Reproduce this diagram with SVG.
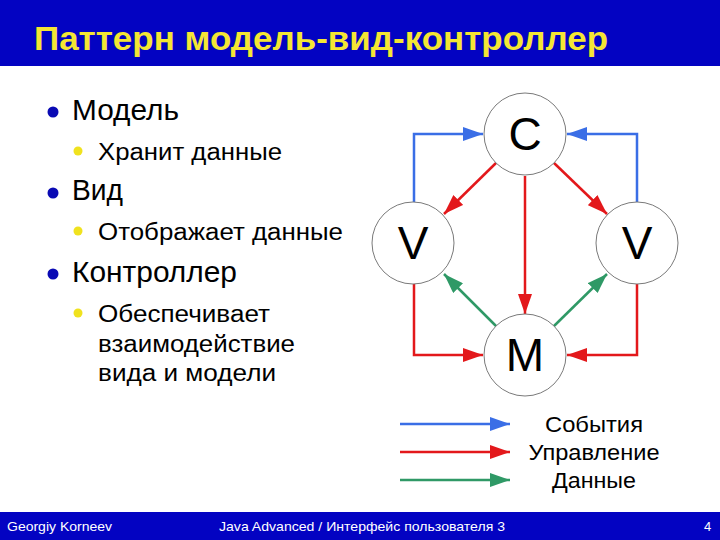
<svg xmlns="http://www.w3.org/2000/svg" width="720" height="540" viewBox="0 0 720 540">
<style>
.bar{fill:#0303c2}
.title{font-family:"Liberation Sans",Arial,sans-serif;font-weight:bold;font-size:33px;fill:#f4e634}
.foot{font-family:"Liberation Sans",Arial,sans-serif;font-size:13px;fill:#ffffff}
.main{font-family:"Liberation Sans",Arial,sans-serif;font-size:29px;fill:#000}
.sub{font-family:"Liberation Sans",Arial,sans-serif;font-size:23.5px;fill:#000}
.b1{fill:#0a0ab4}
.b2{fill:#f0e21e}
.node circle{fill:#fff;stroke:#7a7a7a;stroke-width:1}
.node text{font-family:"Liberation Sans",Arial,sans-serif;font-size:46px;fill:#000;text-anchor:middle}
.ev{stroke:#3a6ee6;stroke-width:2.5;fill:none}
.ctl{stroke:#e3181b;stroke-width:2.5;fill:none}
.dat{stroke:#2f9966;stroke-width:2.5;fill:none}
.leg{font-family:"Liberation Sans",Arial,sans-serif;font-size:22px;fill:#000;text-anchor:middle}
</style>
<defs>
<marker id="aB" markerUnits="userSpaceOnUse" markerWidth="20" markerHeight="14" refX="20" refY="7" orient="auto"><path d="M0,0 L20,7 L0,14 Z" fill="#3a6ee6"/></marker>
<marker id="aR" markerUnits="userSpaceOnUse" markerWidth="20" markerHeight="14" refX="20" refY="7" orient="auto"><path d="M0,0 L20,7 L0,14 Z" fill="#e3181b"/></marker>
<marker id="aG" markerUnits="userSpaceOnUse" markerWidth="20" markerHeight="14" refX="20" refY="7" orient="auto"><path d="M0,0 L20,7 L0,14 Z" fill="#2f9966"/></marker>
</defs>
<rect width="720" height="540" fill="#fff"/>
<rect class="bar" x="0" y="0" width="720" height="66"/>
<text class="title" x="34" y="50" textLength="574" lengthAdjust="spacingAndGlyphs">Паттерн модель-вид-контроллер</text>
<rect class="bar" x="0" y="512" width="720" height="28"/>
<text class="foot" x="7" y="531" textLength="105" lengthAdjust="spacingAndGlyphs">Georgiy Korneev</text>
<text class="foot" x="219" y="531" textLength="286" lengthAdjust="spacingAndGlyphs">Java Advanced / Интерфейс пользователя 3</text>
<text class="foot" x="704" y="531">4</text>

<g id="bullets">
<circle class="b1" cx="53" cy="112" r="5.5"/>
<text class="main" x="72" y="120" textLength="107" lengthAdjust="spacingAndGlyphs">Модель</text>
<circle class="b2" cx="78" cy="151" r="4.5"/>
<text class="sub" x="98" y="160" textLength="184" lengthAdjust="spacingAndGlyphs">Хранит данные</text>
<circle class="b1" cx="53" cy="193" r="5.5"/>
<text class="main" x="72" y="200" textLength="51" lengthAdjust="spacingAndGlyphs">Вид</text>
<circle class="b2" cx="78" cy="231" r="4.5"/>
<text class="sub" x="98" y="240" textLength="245" lengthAdjust="spacingAndGlyphs">Отображает данные</text>
<circle class="b1" cx="53" cy="274" r="5.5"/>
<text class="main" x="72" y="282" textLength="165" lengthAdjust="spacingAndGlyphs">Контроллер</text>
<circle class="b2" cx="78" cy="313" r="4.5"/>
<text class="sub" x="98" y="322" textLength="172" lengthAdjust="spacingAndGlyphs">Обеспечивает</text>
<text class="sub" x="98" y="352" textLength="197" lengthAdjust="spacingAndGlyphs">взаимодействие</text>
<text class="sub" x="98" y="381" textLength="178" lengthAdjust="spacingAndGlyphs">вида и модели</text>
</g>

<g id="connectors">
<path class="ev" d="M414,202 V134 H483" marker-end="url(#aB)"/>
<path class="ev" d="M637,202 V134 H567" marker-end="url(#aB)"/>
<path class="ctl" d="M496,163 L444,214" marker-end="url(#aR)"/>
<path class="ctl" d="M554,163 L607,214" marker-end="url(#aR)"/>
<path class="ctl" d="M525,176 V314" marker-end="url(#aR)"/>
<path class="ctl" d="M414,284 V355 H483" marker-end="url(#aR)"/>
<path class="ctl" d="M637,284 V355 H567" marker-end="url(#aR)"/>
<path class="dat" d="M496,326 L444,274" marker-end="url(#aG)"/>
<path class="dat" d="M554,326 L607,274" marker-end="url(#aG)"/>
</g>

<g id="nodeC" class="node"><circle cx="525" cy="134" r="41"/><text x="525" y="150">C</text></g>
<g id="nodeVL" class="node"><circle cx="413" cy="243" r="41"/><text x="413" y="259">V</text></g>
<g id="nodeVR" class="node"><circle cx="637" cy="243" r="41"/><text x="637" y="259">V</text></g>
<g id="nodeM" class="node"><circle cx="525" cy="355" r="41"/><text x="525" y="371">M</text></g>

<g id="legend">
<path class="ev" d="M400,424 H510" marker-end="url(#aB)"/>
<path class="ctl" d="M400,452 H510" marker-end="url(#aR)"/>
<path class="dat" d="M400,480 H510" marker-end="url(#aG)"/>
<text class="leg" x="594" y="432" textLength="98" lengthAdjust="spacingAndGlyphs">События</text>
<text class="leg" x="594" y="460" textLength="131" lengthAdjust="spacingAndGlyphs">Управление</text>
<text class="leg" x="594" y="488" textLength="84" lengthAdjust="spacingAndGlyphs">Данные</text>
</g>
</svg>
